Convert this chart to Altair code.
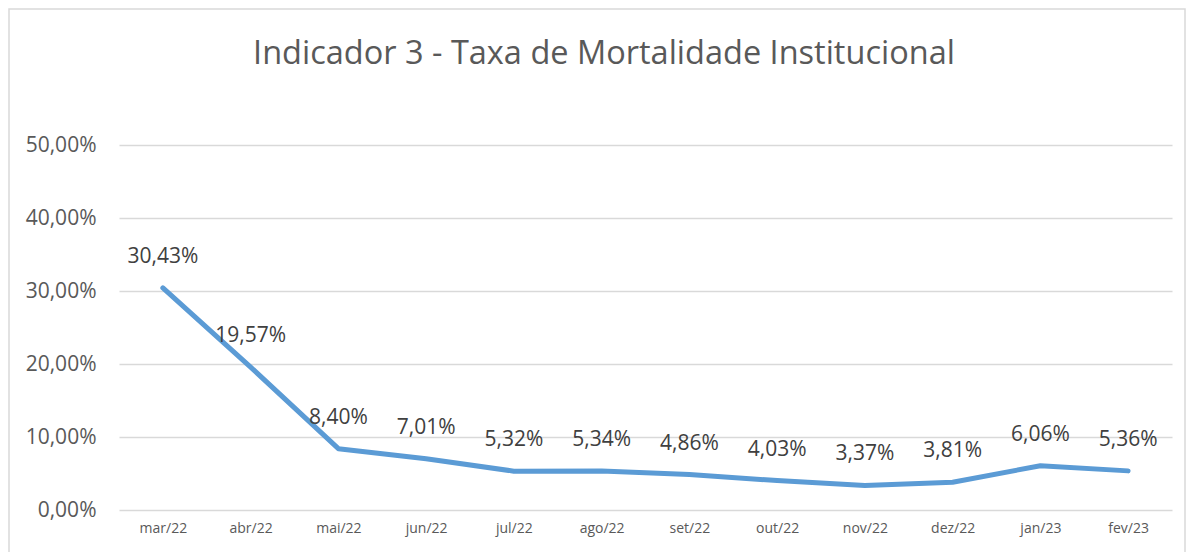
import altair as alt
import pandas as pd

months = ["mar/22", "abr/22", "mai/22", "jun/22", "jul/22", "ago/22",
          "set/22", "out/22", "nov/22", "dez/22", "jan/23", "fev/23"]
rates = [30.43, 19.57, 8.40, 7.01, 5.32, 5.34, 4.86, 4.03, 3.37, 3.81, 6.06, 5.36]
y_ticks = [0, 10, 20, 30, 40, 50]
title_text = "Indicador 3 - Taxa de Mortalidade Institucional"

df = pd.DataFrame({"mes": months, "taxa": rates})

FONT = "Open Sans"

base = alt.Chart(df).encode(
    x=alt.X("mes:O", sort=months, title=None,
            axis=alt.Axis(labelAngle=0, labelFontSize=14, labelColor="#595959",
                          labelFont=FONT, ticks=False, domain=False, labelPadding=11,
                          grid=False)),
    y=alt.Y("taxa:Q", title=None,
            scale=alt.Scale(domain=[0, 50], nice=False, zero=True),
            axis=alt.Axis(values=y_ticks, labelFontSize=21, labelColor="#595959",
                          labelFont=FONT, ticks=False, domain=False, labelPadding=23,
                          labelExpr="replace(format(datum.value/100,'.2%'),'.',',')",
                          grid=True, gridColor="#d9d9d9", gridWidth=1.5)),
)

line = base.mark_line(color="#5B9BD5", strokeWidth=5, strokeCap="round", strokeJoin="round")

labels = base.transform_calculate(
    lab="replace(format(datum.taxa/100,'.2%'),'.',',')"
).mark_text(fontSize=21, font=FONT, color="#404040", dy=-31, baseline="middle").encode(
    text="lab:N"
)

deco = pd.DataFrame({"t": [title_text]})

border = alt.Chart(deco).mark_rect(
    fill=None, stroke="#d9d9d9", strokeWidth=1.5
).encode(
    x=alt.value(-110), x2=alt.value(1066), y=alt.value(-136), y2=alt.value(430)
)

title = alt.Chart(deco).mark_text(
    fontSize=32.5, font=FONT, color="#595959", align="center", baseline="middle"
).encode(
    text="t:N", x=alt.value(485), y=alt.value(-91)
)

chart = alt.layer(border, title, line, labels).properties(
    width=1053, height=365,
    padding={"left": 111, "top": 137, "right": 14, "bottom": 42},
    autosize=alt.AutoSizeParams(type="none"),
).configure(background="white").configure_view(stroke=None)

chart.save("out.html", embed_options={"renderer": "svg", "actions": False})
